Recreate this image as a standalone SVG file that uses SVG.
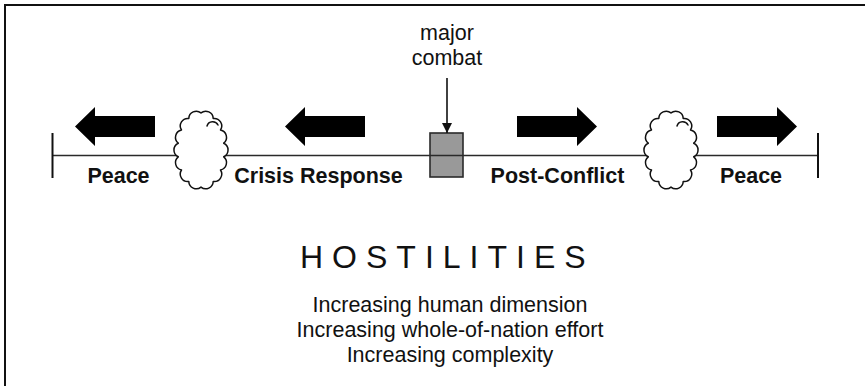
<svg xmlns="http://www.w3.org/2000/svg" width="865" height="386" viewBox="0 0 865 386">
  <style>
    .frame { fill: none; stroke: #111; stroke-width: 2; }
    .line { fill: none; stroke: #2a2a2a; stroke-width: 1.6; }
    .tick { fill: none; stroke: #111; stroke-width: 2; }
    .cloud { fill: #fff; stroke: #111; stroke-width: 1.5; stroke-linejoin: round; }
    .curl { fill: none; stroke: #111; stroke-width: 1.5; stroke-linecap: round; }
    .bigarrow { fill: #000; }
    .label { font-family: "Liberation Sans", Arial, sans-serif; font-weight: bold; font-size: 21.5px; fill: #111; text-anchor: middle; }
    .plain { font-family: "Liberation Sans", Arial, sans-serif; font-size: 21.5px; fill: #111; text-anchor: middle; }
    .title { font-family: "Liberation Sans", Arial, sans-serif; font-size: 32px; fill: #111; letter-spacing: 9px; }
  </style>
  <defs>
    <path id="cloudShape" d="M0,-37.1 A7.5,7.5 0 0 1 12.2,-31.5 A7.5,7.5 0 0 1 19.5,-20 A7.5,7.5 0 0 1 22.7,-6.8 A7.5,7.5 0 0 1 22.7,6.8 A7.5,7.5 0 0 1 19.5,20 A7.5,7.5 0 0 1 12.2,31.5 A7.5,7.5 0 0 1 0,37.1 A7.5,7.5 0 0 1 -12.2,31.5 A7.5,7.5 0 0 1 -19.5,20 A7.5,7.5 0 0 1 -22.7,6.8 A7.5,7.5 0 0 1 -22.7,-6.8 A7.5,7.5 0 0 1 -19.5,-20 A7.5,7.5 0 0 1 -12.2,-31.5 A7.5,7.5 0 0 1 0,-37.1 Z"/>
    <path id="leftArrow" d="M0,0 L20,-19.5 L20,-10.5 L80,-10.5 L80,10.5 L20,10.5 L20,19.5 Z"/>
    <path id="rightArrow" d="M80,0 L60,-19.5 L60,-10.5 L0,-10.5 L0,10.5 L60,10.5 L60,19.5 Z"/>
    <marker id="head" markerWidth="10" markerHeight="10" refX="10" refY="5" orient="auto" markerUnits="userSpaceOnUse">
      <path d="M0,0 L10,5 L0,10 Z" fill="#111"/>
    </marker>
  </defs>

  <rect width="865" height="386" fill="#fff"/>
  <path class="frame" d="M5,386 V5 H865"/>

  <g id="combat-box">
    <rect x="430" y="133" width="33" height="44" fill="#999" stroke="#2a2a2a" stroke-width="1.6"/>
  </g>

  <g id="connectors">
    <line class="line" x1="52" y1="155.5" x2="818" y2="155.5"/>
    <line class="tick" x1="52.5" y1="133" x2="52.5" y2="178"/>
    <line class="tick" x1="818" y1="133" x2="818" y2="178"/>
    <line x1="447" y1="78" x2="447" y2="133" stroke="#111" stroke-width="1.6" marker-end="url(#head)"/>
  </g>

  <g id="cloud-left">
    <use href="#cloudShape" class="cloud" x="201" y="150"/>
    <path class="curl" d="M207,126 a6,6 0 0 1 11,-1"/>
  </g>
  <g id="cloud-right">
    <use href="#cloudShape" class="cloud" x="671" y="150"/>
    <path class="curl" d="M677,126 a6,6 0 0 1 11,-1"/>
  </g>

  <g id="arrow-peace-left">
    <use href="#leftArrow" class="bigarrow" x="75" y="126.5"/>
  </g>
  <g id="arrow-crisis">
    <use href="#leftArrow" class="bigarrow" x="285" y="126.5"/>
  </g>
  <g id="arrow-post">
    <use href="#rightArrow" class="bigarrow" x="517" y="126.5"/>
  </g>
  <g id="arrow-peace-right">
    <use href="#rightArrow" class="bigarrow" x="717" y="126.5"/>
  </g>

  <g id="label-major-combat">
    <text class="plain" x="447" y="40">major</text>
    <text class="plain" x="447" y="65">combat</text>
  </g>
  <g id="label-peace-left"><text class="label" x="118.5" y="183">Peace</text></g>
  <g id="label-crisis"><text class="label" x="318.5" y="183">Crisis Response</text></g>
  <g id="label-post"><text class="label" x="557.5" y="183">Post-Conflict</text></g>
  <g id="label-peace-right"><text class="label" x="751" y="183">Peace</text></g>

  <g id="title">
    <text class="title" x="300" y="268">HOSTILITIES</text>
  </g>
  <g id="notes">
    <text class="plain" x="450" y="312">Increasing human dimension</text>
    <text class="plain" x="450" y="337">Increasing whole-of-nation effort</text>
    <text class="plain" x="450" y="362">Increasing complexity</text>
  </g>
</svg>
